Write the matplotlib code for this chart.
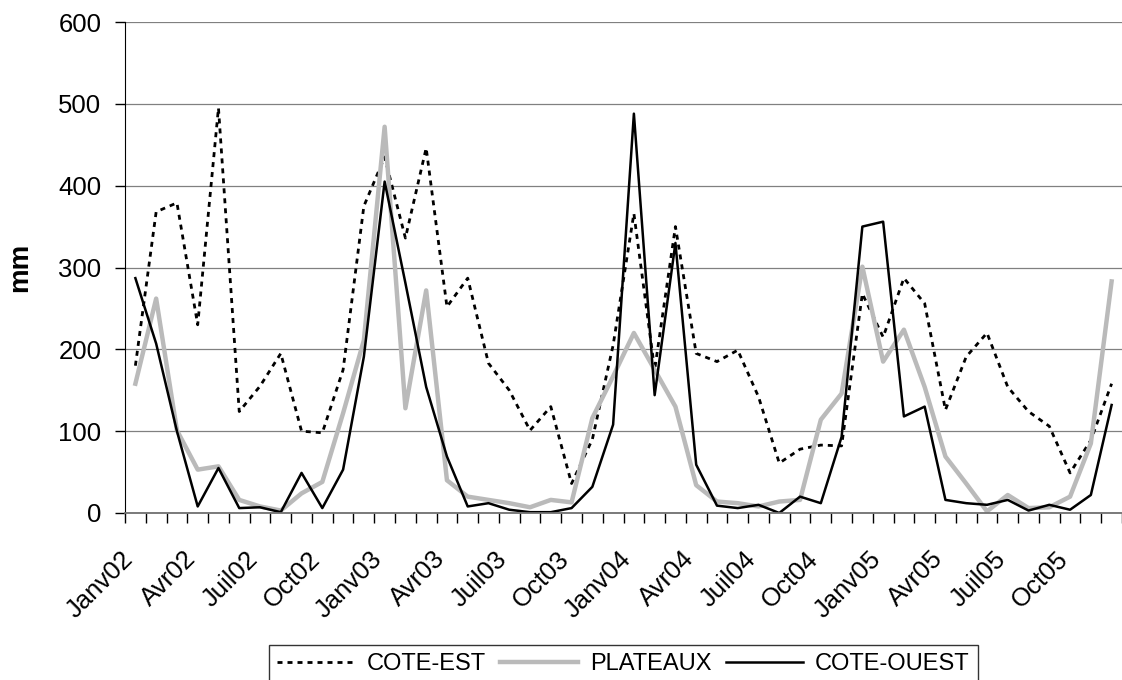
import numpy as np
import matplotlib.pyplot as plt
from matplotlib.transforms import ScaledTranslation

plt.rcParams['font.family'] = ['Liberation Sans', 'DejaVu Sans']

# monthly rainfall, Jan 2002 .. Dec 2005
cote_est = [180, 368, 379, 230, 495, 124, 155, 195, 100, 98, 175, 375,
            435, 336, 446, 252, 287, 183, 150, 101, 130, 36, 90, 205,
            366, 175, 350, 195, 185, 199, 142, 61, 78, 83, 82, 268,
            215, 287, 256, 126, 191, 220, 154, 124, 106, 49, 89, 158]
plateaux = [158, 262, 101, 53, 57, 16, 8, 3, 24, 38, 122, 211,
            472, 128, 272, 40, 20, 16, 12, 7, 16, 13, 116, 167,
            220, 175, 130, 34, 14, 12, 8, 14, 16, 114, 146, 301,
            185, 224, 154, 69, 36, 2, 22, 6, 7, 20, 85, 283]
cote_ouest = [287, 207, 100, 8, 55, 6, 7, 1, 49, 6, 53, 191,
              405, 281, 154, 69, 8, 12, 4, 1, 1, 6, 32, 108,
              488, 144, 330, 59, 9, 6, 10, 0, 20, 12, 93, 350,
              356, 118, 130, 16, 12, 10, 16, 3, 10, 4, 22, 132]
tick_labels = ["Janv02", "Avr02", "Juil02", "Oct02",
               "Janv03", "Avr03", "Juil03", "Oct03",
               "Janv04", "Avr04", "Juil04", "Oct04",
               "Janv05", "Avr05", "Juil05", "Oct05"]

n = len(cote_est)
x = np.arange(n)

fig = plt.figure(figsize=(11.22, 6.8), dpi=100)
ax = fig.add_axes([125/1122, 1 - 513/680, 997/1122, 491/680])

ax.plot(x, cote_est, color='black', lw=2, linestyle=(0, (1.8, 1.8)), label='COTE-EST')
ax.plot(x, plateaux, color='#bababa', lw=3.2, label='PLATEAUX')
ax.plot(x, cote_ouest, color='black', lw=1.8, label='COTE-OUEST')

ax.set_xlim(-0.5, n - 0.5)
ax.set_ylim(0, 600)
ax.set_yticks(range(0, 601, 100))
ax.yaxis.grid(True, color='#808080', lw=0.9)
ax.set_axisbelow(True)

# category boundaries as ticks, labels every 3 months
ax.set_xticks(np.arange(-0.5, n, 1), minor=True)
ax.set_xticks(np.arange(0, n, 3))
ax.set_xticklabels(tick_labels, rotation=45, ha='right', va='top',
                   rotation_mode='anchor', fontsize=18.5)
ax.tick_params(axis='x', which='major', length=0, pad=24.2)
ax.tick_params(axis='x', which='minor', length=7, width=1, color='black')
ax.tick_params(axis='y', length=7, width=1, pad=10, labelsize=18.5)
shift = ScaledTranslation(-0.145, 0, fig.dpi_scale_trans)
for lab in ax.get_xticklabels():
    lab.set_transform(lab.get_transform() + shift)

for s in ['top', 'right']:
    ax.spines[s].set_visible(False)
ax.spines['left'].set_color('black')
ax.spines['bottom'].set_color('#707070')
ax.spines['bottom'].set_linewidth(1.3)

ax.set_ylabel('mm', fontsize=20, fontweight='bold')
ax.yaxis.set_label_coords(-0.092, 0.5)

leg = ax.legend(loc='upper center', bbox_to_anchor=(0.5, -0.268), ncol=3,
                fontsize=17, frameon=True, fancybox=False, edgecolor='black',
                handlelength=3.3, handletextpad=0.5, columnspacing=0.6,
                borderpad=0.35, borderaxespad=0)
leg.get_frame().set_linewidth(1)

plt.savefig('out.png', dpi=100)
